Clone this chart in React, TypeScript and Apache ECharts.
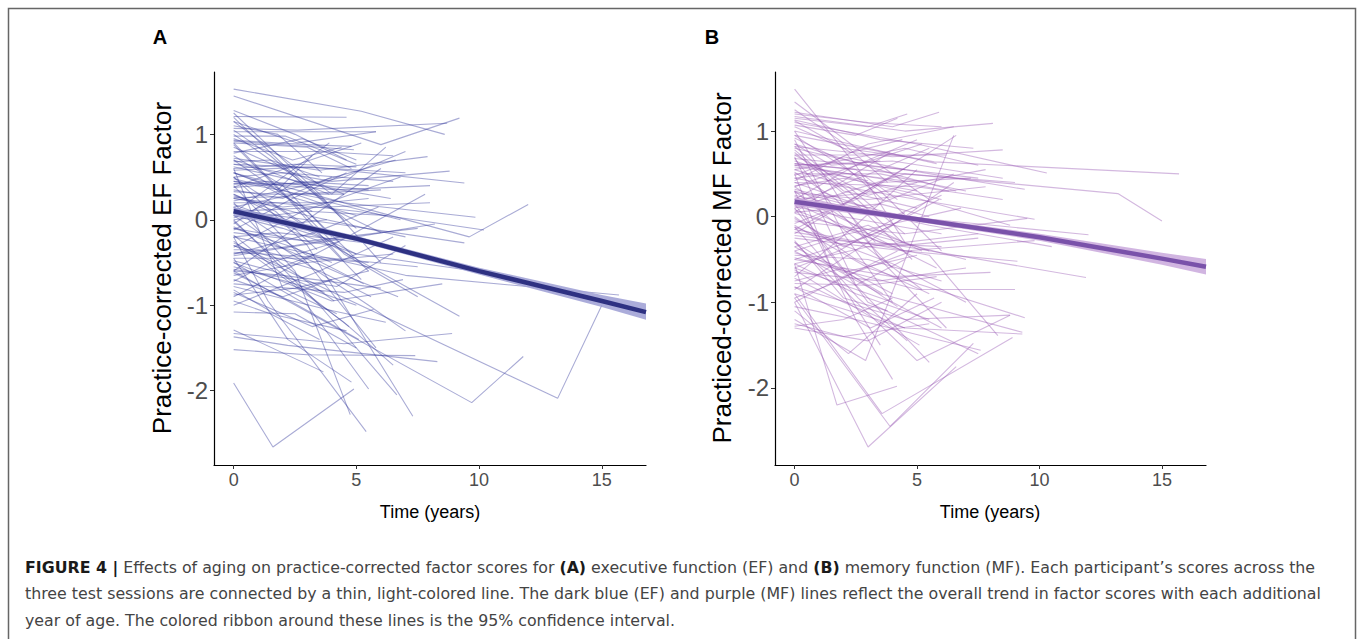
import React, { useEffect, useRef } from "react";
import * as echarts from "echarts";

const FONT = "Liberation Sans, Arial, Helvetica, sans-serif";
const CAPTION_FONT = "DejaVu Sans, Liberation Sans, sans-serif";

const xTicks = [0, 5, 10, 15];
const efYTicks = [-2, -1, 0, 1];
const mfYTicks = [-2, -1, 0, 1];

// each participant: [t0, y0, t1, y1, t2, y2]
const efLines: number[][] = [
  [0, 1.53, 5.2, 1.27, 8.6, 1.0],
  [0, 1.45, 6.0, 0.88, 9.2, 1.19],
  [0, 1.28, 2.5, 1.0, 4.6, 0.7],
  [0, 1.21, 4.6, 1.2],
  [0, 1.15, 2.6, 0.9, 5.8, 1.03],
  [0, 1.07, 2.6, 1.05, 8.7, 1.13],
  [0, 1.03, 5.8, 1.03],
  [0, 0.93, 3.0, 0.88, 4.8, 0.86],
  [0, 0.92, 4.9, 0.82],
  [0, 0.98, 2.1, 0.98, 5.0, 0.65],
  [0, 0.72, 3.5, 0.58, 7.9, 0.74],
  [0, 0.65, 4.0, 0.45, 8.8, 0.57],
  [0, 0.58, 3.2, 0.62, 9.4, 0.43],
  [0, 0.45, 4.5, 0.2, 9.85, 0.03],
  [0, 0.55, 9.6, -0.2, 12.0, 0.18],
  [0, 0.25, 5.0, 0.1, 10.2, -0.12],
  [0, 0.12, 4.2, -0.05, 9.4, -0.27],
  [0, -0.2, 7.0, -0.65, 15.7, -0.88],
  [0, -0.3, 13.2, -2.09, 15.0, -1.0],
  [0, -0.6, 9.7, -2.14, 11.8, -1.6],
  [0, -1.91, 1.6, -2.66, 4.9, -1.98],
  [0, -0.1, 4.0, -0.3, 9.2, -1.13],
  [0, 0.5, 3.0, -0.3, 7.3, -2.3],
  [0, -0.2, 1.4, -0.95, 5.4, -2.48],
  [0, 0.2, 2.5, -0.6, 4.75, -2.28],
  [0, -0.5, 3.0, -1.0, 5.5, -1.98],
  [0, 0.0, 3.5, -1.0, 6.65, -2.05],
  [0, -1.29, 3.66, -1.78],
  [0, -1.37, 2.2, -1.47, 8.3, -1.66],
  [0, -1.33, 4.5, -1.45, 8.9, -1.33],
  [0, -1.52, 3.0, -1.58, 7.4, -1.59],
  [0, -1.08, 2.5, -1.1, 5.0, -1.5],
  [0, -0.82, 1.8, -1.12, 4.6, -1.3],
  [0, -0.75, 4.5, -0.85, 6.9, -0.7],
  [0, -0.6, 2.0, -0.65, 6.0, -0.8],
  [0, -0.45, 3.0, -0.45, 5.5, -0.5],
  [0, -0.38, 4.0, -0.45, 7.5, -0.55],
  [0, -0.4, 2.5, -0.3, 4.5, -0.2],
  [0, -0.3, 3.5, -0.6, 5.6, -0.9],
  [0, -0.2, 1.8, -0.15, 6.3, -0.3],
  [0, -0.1, 2.2, -0.3, 4.0, -0.5],
  [0, 0.0, 3.0, 0.1, 6.2, 0.05],
  [0, 0.05, 2.0, -0.1, 5.0, -0.4],
  [0, 0.1, 3.8, 0.15, 8.0, 0.2],
  [0, 0.15, 2.5, 0.3, 6.0, 0.35],
  [0, 0.2, 4.0, 0.2, 6.8, 0.0],
  [0, 0.25, 2.0, 0.15, 5.5, 0.25],
  [0, 0.28, 3.0, 0.05, 7.0, -0.2],
  [0, 0.33, 1.5, 0.3, 4.5, 0.3],
  [0, 0.38, 3.5, 0.45, 6.6, 0.7],
  [0, 0.42, 2.8, 0.42, 5.5, 0.35],
  [0, 0.45, 4.2, 0.35, 8.0, 0.4],
  [0, 0.5, 2.0, 0.55, 6.5, 0.45],
  [0, 0.55, 3.5, 0.2, 6.0, -0.15],
  [0, 0.6, 2.5, 0.65, 5.0, 0.62],
  [0, 0.65, 4.0, 0.6, 7.0, 0.55],
  [0, 0.68, 1.5, 0.7, 3.5, 0.5],
  [0, 0.7, 3.0, 0.1, 5.5, -0.6],
  [0, 0.75, 2.0, 0.4, 4.0, -0.2],
  [0, 0.8, 3.5, 0.8, 6.5, 0.75],
  [0, 0.85, 2.0, 0.6, 4.5, 0.3],
  [0, 0.9, 3.0, 0.85, 4.8, 0.6],
  [0, 1.0, 2.5, 0.5, 5.0, -0.1],
  [0, 1.25, 3.5, 0.3, 6.0, -0.5],
  [0, 1.05, 1.5, 0.75, 4.5, 0.0],
  [0, 0.9, 4.5, -0.4, 7.5, -0.9],
  [0, -0.55, 2.5, -0.75, 5.0, -1.0],
  [0, -0.65, 3.0, -0.5, 6.5, -0.4],
  [0, -0.7, 2.0, -0.9, 4.0, -0.7],
  [0, -0.78, 3.8, -1.05, 6.2, -1.2],
  [0, -0.88, 2.5, -0.8, 5.5, -0.6],
  [0, -0.95, 1.5, -1.1, 3.5, -1.4],
  [0, -0.5, 4.0, -0.95, 8.5, -0.75],
  [0, -0.15, 3.0, -0.25, 7.5, -0.1],
  [0, 0.3, 5.0, -0.4, 9.8, -0.6],
  [0, -0.35, 1.0, -0.35, 3.0, -0.5],
  [0, 0.18, 2.2, -0.05, 3.8, 0.0],
  [0, 0.48, 1.2, 0.4, 3.2, 0.1],
  [0, 0.05, 5.5, -1.0, 7.0, -1.3],
  [0, -0.25, 4.5, -1.2, 6.5, -1.7],
  [0, 0.4, 3.0, -0.5, 5.8, -1.5],
  [0, -0.45, 2.2, -1.4, 4.8, -1.9],
  [0, 0.6, 2.0, -0.8, 4.2, -1.1],
  [0, 1.15, 4.0, 0.3, 6.2, 0.85],
  [0, -1.0, 3.5, -0.6, 6.5, -0.2],
  [0, -0.9, 4.0, -0.3, 7.8, 0.3],
  [0, -0.6, 3.0, 0.0, 6.0, 0.6],
  [0, 0.22, 4.5, 0.5, 7.0, 0.8],
  [0, -0.05, 2.5, 0.45, 5.5, 0.4],
  [0, -0.42, 5.0, -0.2, 8.2, -0.05],
  [0, 0.35, 2.0, 0.25, 4.0, 0.5],
  [0, 0.12, 3.5, -0.2, 5.2, -0.7],
  [0, -0.27, 2.0, -0.55, 3.3, -0.4],
  [0, 0.02, 1.5, 0.2, 3.0, -0.1],
  [0, 0.78, 2.8, 0.95, 5.0, 0.7],
  [0, 0.55, 1.8, 0.35, 3.2, 0.75],
  [0, -0.08, 4.5, -0.65, 6.7, -0.9],
  [0, -0.32, 2.8, 0.1, 6.8, 0.5],
  [0, 0.26, 2.3, 0.27, 5.0, 0.05],
  [0, -0.58, 4.2, -0.78, 7.0, -0.3],
  [0, 1.1, 1.8, 1.0, 3.6, 0.55],
  [0, 0.95, 2.4, 0.7, 4.4, 0.85],
  [0, 0.7, 1.6, 0.55, 3.9, 0.3],
  [0, 0.5, 2.6, 0.0, 4.9, -0.45],
  [0, 0.3, 1.7, 0.1, 3.4, -0.35],
  [0, 0.15, 2.9, -0.4, 5.3, -0.75],
  [0, -0.02, 1.9, -0.5, 4.1, -0.95],
  [0, -0.18, 2.7, -0.8, 4.7, -1.25],
  [0, -0.48, 1.6, -0.6, 3.7, -0.85],
  [0, -0.62, 2.3, -0.95, 5.1, -1.4],
  [0, -0.85, 3.2, -1.25, 5.7, -1.05],
  [0, -0.72, 1.5, -0.5, 4.3, -0.25],
  [0, -0.4, 3.3, -0.15, 5.9, 0.15],
  [0, -0.12, 2.4, 0.25, 4.6, 0.55],
  [0, 0.08, 1.3, 0.35, 3.9, 0.9],
  [0, 0.38, 2.1, 0.6, 5.2, 0.9],
  [0, 0.62, 3.4, 0.4, 6.4, 0.25],
  [0, 0.88, 2.2, 0.25, 4.4, -0.45],
  [0, 1.2, 2.0, 0.65, 3.8, 0.2],
  [0, 0.42, 1.4, 0.45, 3.0, 0.4],
];

const mfLines: number[][] = [
  [0, 1.49, 2.5, 0.6, 4.5, -0.3],
  [0, 1.34, 3.0, 0.7, 5.5, 0.2],
  [0, 1.22, 4.0, 1.05, 5.9, 1.22],
  [0, 1.2, 3.0, 1.1, 6.0, 1.05],
  [0, 1.17, 4.5, 1.0, 8.1, 1.09],
  [0, 1.13, 3.5, 0.9, 7.3, 0.8],
  [0, 1.1, 5.0, 0.85, 10.3, 0.51],
  [0, 1.07, 2.5, 0.95, 4.2, 1.15],
  [0, 1.0, 3.0, 0.8, 5.8, 0.62],
  [0, 0.95, 5.7, 0.64, 15.7, 0.5],
  [0, 0.62, 13.2, 0.27, 15.0, -0.05],
  [0, 0.82, 4.0, 0.7, 8.5, 0.78],
  [0, 0.8, 3.0, 0.6, 7.5, 0.45],
  [0, 0.78, 2.0, 0.3, 5.0, 0.1],
  [0, 0.72, 3.5, 0.72, 6.2, 0.72],
  [0, 0.68, 4.5, 0.55, 9.4, 0.32],
  [0, 0.65, 2.8, 0.4, 6.0, 0.2],
  [0, 0.6, 4.0, 0.65, 8.5, 0.45],
  [0, 0.55, 2.2, 0.35, 4.5, -0.2],
  [0, 0.5, 3.5, 0.5, 7.0, 0.3],
  [0, 0.45, 5.0, 0.2, 9.8, -0.03],
  [0, 0.4, 3.0, 0.1, 6.5, 0.5],
  [0, 0.36, 2.0, 0.45, 5.0, 0.3],
  [0, 0.32, 4.5, 0.0, 12.0, -0.21],
  [0, 0.28, 3.0, 0.2, 7.8, 0.35],
  [0, 0.24, 2.5, -0.1, 5.5, -0.4],
  [0, 0.2, 4.0, 0.3, 8.8, -0.1],
  [0, 0.16, 3.5, -0.3, 11.9, -0.71],
  [0, 0.12, 2.0, 0.0, 6.0, -0.2],
  [0, 0.08, 4.5, -0.4, 9.1, -0.52],
  [0, 0.04, 3.0, -0.2, 7.0, -0.5],
  [0, 0.0, 2.5, -0.5, 5.5, -0.9],
  [0, -0.05, 4.5, -0.2, 9.5, -0.02],
  [0, -0.1, 3.0, -0.6, 9.4, -1.18],
  [0, -0.15, 5.5, -0.45, 8.3, -1.39],
  [0, -0.18, 2.5, -0.3, 6.0, -0.35],
  [0, -0.22, 4.0, -0.35, 7.5, -0.25],
  [0, -0.3, 2.0, -0.65, 5.0, -0.45],
  [0, -0.35, 3.5, -0.9, 9.3, -1.35],
  [0, -0.4, 2.2, -0.2, 6.8, 0.1],
  [0, -0.45, 3.0, -0.5, 6.0, -0.75],
  [0, -0.5, 4.0, -0.7, 8.0, -0.65],
  [0, -0.55, 2.5, -0.9, 5.5, -1.2],
  [0, -0.6, 1.8, -0.4, 4.5, 0.05],
  [0, -0.65, 3.5, -0.75, 7.0, -0.6],
  [0, -0.72, 2.0, -1.0, 4.5, -1.3],
  [0, -0.78, 3.0, -0.8, 5.8, -0.7],
  [0, -0.82, 4.5, -1.2, 8.8, -1.15],
  [0, -0.9, 3.57, -2.3, 8.9, -1.41],
  [0, -0.95, 3.9, -2.45, 7.3, -1.48],
  [0, -1.0, 3.0, -2.69, 6.6, -1.75],
  [0, -0.55, 1.73, -2.2, 4.18, -1.98],
  [0, -1.05, 2.5, -1.2, 7.6, -1.56],
  [0, -0.3, 5.0, -1.68, 8.8, -1.15],
  [0, -1.2, 2.9, -1.68, 6.5, 0.95],
  [0, -1.25, 2.0, -1.4, 5.5, -1.25],
  [0, -1.3, 3.0, -1.45, 6.0, -1.0],
  [0, -1.1, 2.2, -1.6, 5.0, -0.9],
  [0, 0.9, 2.0, -0.2, 4.0, -1.0],
  [0, 1.0, 3.5, -0.5, 6.2, -1.3],
  [0, 0.7, 2.5, -0.8, 5.5, -1.7],
  [0, 0.5, 1.5, -0.6, 3.5, -1.5],
  [0, 0.3, 2.5, -1.2, 4.0, -1.9],
  [0, 0.15, 3.0, -1.0, 7.5, -1.6],
  [0, -0.7, 2.5, -0.1, 5.0, 0.55],
  [0, -0.85, 3.0, -0.3, 6.5, 0.4],
  [0, -0.2, 3.5, 0.4, 7.2, 0.45],
  [0, -0.08, 2.5, 0.2, 6.6, 0.95],
  [0, 0.1, 4.5, 0.5, 9.0, 0.4],
  [0, 0.2, 2.5, 0.6, 5.0, 0.9],
  [0, 0.42, 3.0, 0.85, 6.5, 1.05],
  [0, 0.55, 4.5, 0.8, 7.5, 0.6],
  [0, 0.25, 5.5, -0.1, 10.5, -0.35],
  [0, -0.25, 4.5, -0.4, 9.8, -0.28],
  [0, 0.05, 3.5, 0.15, 5.5, 0.0],
  [0, 0.62, 2.5, 0.55, 4.2, 0.2],
  [0, 0.85, 1.5, 0.6, 3.5, 0.65],
  [0, 1.05, 2.0, 0.8, 4.5, 0.7],
  [0, -0.4, 2.5, -0.8, 4.5, -0.5],
  [0, -0.6, 4.0, -1.0, 6.0, -1.3],
  [0, -0.75, 2.0, -0.6, 4.0, -0.9],
  [0, -0.48, 5.0, -0.85, 9.0, -0.85],
  [0, -0.9, 4.5, -1.3, 9.3, -1.37],
  [0, 0.35, 3.0, -0.2, 5.8, -0.6],
  [0, 0.72, 3.0, 0.25, 5.0, 0.4],
  [0, 0.48, 2.0, 0.7, 4.5, 0.55],
  [0, 0.15, 3.5, 0.55, 5.5, 0.8],
  [0, -0.02, 2.0, -0.35, 4.0, -0.1],
  [0, 0.3, 4.0, 0.0, 6.0, 0.25],
  [0, -0.35, 3.0, -0.1, 5.2, -0.4],
  [0, 0.95, 3.5, 0.3, 6.0, -0.4],
  [0, 1.15, 3.0, 1.05, 4.6, 1.2],
  [0, -0.12, 4.0, -0.55, 7.0, -1.0],
  [0, 0.58, 5.0, 0.4, 7.8, 0.55],
  [0, -0.55, 3.0, -0.35, 7.5, -0.2],
  [0, 0.85, 4.0, 0.5, 6.6, 0.3],
  [0, -1.0, 2.0, -0.7, 4.8, -0.4],
  [0, 0.68, 1.5, 0.15, 4.0, -0.6],
  [0, -0.28, 2.0, -0.95, 3.8, -1.1],
  [0, 0.4, 5.0, 0.35, 8.5, 0.2],
  [0, 1.25, 1.8, 0.9, 3.8, 0.4],
  [0, 1.12, 2.3, 0.75, 4.4, 0.9],
  [0, 0.92, 1.6, 0.7, 3.6, 0.2],
  [0, 0.75, 2.7, 0.1, 4.8, -0.5],
  [0, 0.52, 1.7, 0.2, 3.3, -0.3],
  [0, 0.3, 2.9, -0.35, 5.2, -0.85],
  [0, 0.1, 1.9, -0.6, 4.2, -1.05],
  [0, -0.12, 2.6, -0.95, 4.6, -1.45],
  [0, -0.42, 1.5, -0.55, 3.6, -0.9],
  [0, -0.62, 2.4, -1.05, 5.1, -1.5],
  [0, -0.82, 3.1, -1.3, 5.7, -0.95],
  [0, -0.95, 1.4, -0.8, 4.2, -0.4],
  [0, -0.5, 3.3, -0.2, 5.9, 0.2],
  [0, -0.15, 2.3, 0.2, 4.7, 0.6],
  [0, 0.05, 1.3, 0.3, 3.9, 0.75],
  [0, 0.35, 2.0, 0.55, 5.2, 0.85],
  [0, 0.6, 3.4, 0.45, 6.3, 0.3],
  [0, 0.82, 2.2, 0.3, 4.4, -0.3],
  [0, -1.28, 2.0, -1.2, 4.0, -0.95],
  [0, 0.45, 1.4, 0.5, 3.0, 0.42],
];

const efTrendX = [0, 5, 10, 15, 16.8];
const efTrend = [0.1, -0.22, -0.6, -0.95, -1.08];
const efLow = [0.05, -0.25, -0.64, -1.02, -1.17];
const efHigh = [0.15, -0.19, -0.56, -0.88, -0.98];

const mfTrendX = [0, 5, 10, 15, 16.8];
const mfTrend = [0.175, -0.03, -0.24, -0.49, -0.585];
const mfLow = [0.125, -0.06, -0.28, -0.56, -0.675];
const mfHigh = [0.225, 0.0, -0.2, -0.42, -0.495];

const captionLines = [
  "{b|FIGURE 4 |} Effects of aging on practice-corrected factor scores for {b|(A)} executive function (EF) and {b|(B)} memory function (MF). Each participant\u2019s scores across the",
  "three test sessions are connected by a thin, light-colored line. The dark blue (EF) and purple (MF) lines reflect the overall trend in factor scores with each additional",
  "year of age. The colored ribbon around these lines is the 95% confidence interval.",
];

function pairs(row: number[]) {
  const out: number[][] = [];
  for (let i = 0; i + 1 < row.length; i += 2) out.push([row[i], row[i + 1]]);
  return out;
}

function makeAxes(idx: number, yMin: number, yMax: number, yTicks: number[]) {
  const x = {
    type: "value",
    gridIndex: idx,
    min: -0.8,
    max: 16.8,
    splitLine: { show: false },
    axisLine: { show: true, onZero: false, lineStyle: { color: "#000", width: 1.2 } },
    axisTick: { show: true, customValues: xTicks, length: 4, lineStyle: { color: "#333" } },
    axisLabel: { customValues: xTicks, color: "#4d4d4d", fontSize: 18, fontFamily: FONT, margin: 6 },
  };
  const y = {
    type: "value",
    gridIndex: idx,
    min: yMin,
    max: yMax,
    splitLine: { show: false },
    axisLine: { show: true, onZero: false, lineStyle: { color: "#000", width: 1.2 } },
    axisTick: { show: true, customValues: yTicks, length: 4, lineStyle: { color: "#333" } },
    axisLabel: { customValues: yTicks, color: "#4d4d4d", fontSize: 24, fontFamily: FONT, margin: 6 },
  };
  return { x, y };
}

function panelSeries(
  idx: number,
  lines: number[][],
  lineColor: string,
  lineOpacity: number,
  tx: number[],
  ty: number[],
  lo: number[],
  hi: number[],
  trendColor: string,
  ribbonColor: string
) {
  const s: any[] = lines.map((row) => ({
    type: "line",
    xAxisIndex: idx,
    yAxisIndex: idx,
    data: pairs(row),
    symbol: "none",
    silent: true,
    lineStyle: { color: lineColor, width: 1.1, opacity: lineOpacity },
    z: 2,
  }));
  const rows = tx.map((x, i) => [x, lo[i], hi[i]]);
  s.push({
    type: "custom",
    xAxisIndex: idx,
    yAxisIndex: idx,
    data: rows,
    encode: { x: 0, y: [1, 2] },
    silent: true,
    z: 3,
    renderItem: (params: any, api: any) => {
      if (params.dataIndex !== 0) return null;
      const upper = rows.map((r) => api.coord([r[0], r[2]]));
      const lower = rows.map((r) => api.coord([r[0], r[1]])).reverse();
      return {
        type: "polygon",
        shape: { points: upper.concat(lower) },
        style: { fill: ribbonColor, opacity: 0.85 },
      };
    },
  });
  s.push({
    type: "line",
    xAxisIndex: idx,
    yAxisIndex: idx,
    data: tx.map((x, i) => [x, ty[i]]),
    symbol: "none",
    silent: true,
    lineStyle: { color: trendColor, width: 4.5 },
    z: 4,
  });
  return s;
}

export default function App() {
  const ref = useRef<HTMLDivElement>(null);
  useEffect(() => {
    if (!ref.current) return;
    const chart = echarts.init(ref.current, undefined, { renderer: "svg" });
    const a = makeAxes(0, -2.87, 1.73, efYTicks);
    const b = makeAxes(1, -2.9, 1.69, mfYTicks);
    const series = [
      ...panelSeries(0, efLines, "#33369a", 0.42, efTrendX, efTrend, efLow, efHigh, "#2e3182", "#9c9ed4"),
      ...panelSeries(1, mfLines, "#9555b3", 0.42, mfTrendX, mfTrend, mfLow, mfHigh, "#7a52aa", "#c9a8dc"),
    ];
    const graphic: any[] = [
      {
        type: "rect",
        shape: { x: 8.5, y: 8.5, width: 1347, height: 700 },
        style: { fill: "none", stroke: "#666", lineWidth: 1.5 },
        silent: true,
      },
      { type: "text", x: 160, y: 37, style: { text: "A", fontFamily: FONT, fontSize: 20, fontWeight: "bold", fill: "#000", align: "center", verticalAlign: "middle" } },
      { type: "text", x: 712, y: 37, style: { text: "B", fontFamily: FONT, fontSize: 20, fontWeight: "bold", fill: "#000", align: "center", verticalAlign: "middle" } },
      {
        type: "text",
        x: 162,
        y: 268,
        rotation: Math.PI / 2,
        style: { text: "Practice-corrected EF Factor", fontFamily: FONT, fontSize: 26, fill: "#000", align: "center", verticalAlign: "middle" },
      },
      {
        type: "text",
        x: 722,
        y: 268,
        rotation: Math.PI / 2,
        style: { text: "Practiced-corrected MF Factor", fontFamily: FONT, fontSize: 26, fill: "#000", align: "center", verticalAlign: "middle" },
      },
      { type: "text", x: 430, y: 512, style: { text: "Time (years)", fontFamily: FONT, fontSize: 18, fill: "#000", align: "center", verticalAlign: "middle" } },
      { type: "text", x: 990, y: 512, style: { text: "Time (years)", fontFamily: FONT, fontSize: 18, fill: "#000", align: "center", verticalAlign: "middle" } },
      ...captionLines.map((t, i) => ({
        type: "text",
        x: 25,
        y: 567 + i * 26.5,
        style: {
          text: t,
          fontFamily: CAPTION_FONT,
          fontSize: 15.8,
          fill: "#444",
          align: "left",
          verticalAlign: "middle",
          rich: { b: { fontWeight: "bold", fontSize: 15.8, fontFamily: CAPTION_FONT, fill: "#1a1a1a" } },
        },
      })),
    ];
    chart.setOption({
      animation: false,
      backgroundColor: "#fff",
      grid: [
        { left: 214, top: 72, width: 432, height: 393, containLabel: false },
        { left: 775, top: 72, width: 431, height: 393, containLabel: false },
      ],
      xAxis: [a.x, b.x],
      yAxis: [a.y, b.y],
      series,
      graphic,
    });
    return () => chart.dispose();
  }, []);
  return <div ref={ref} style={{ position: "absolute", left: 0, top: 0, width: 1357, height: 639 }} />;
}
